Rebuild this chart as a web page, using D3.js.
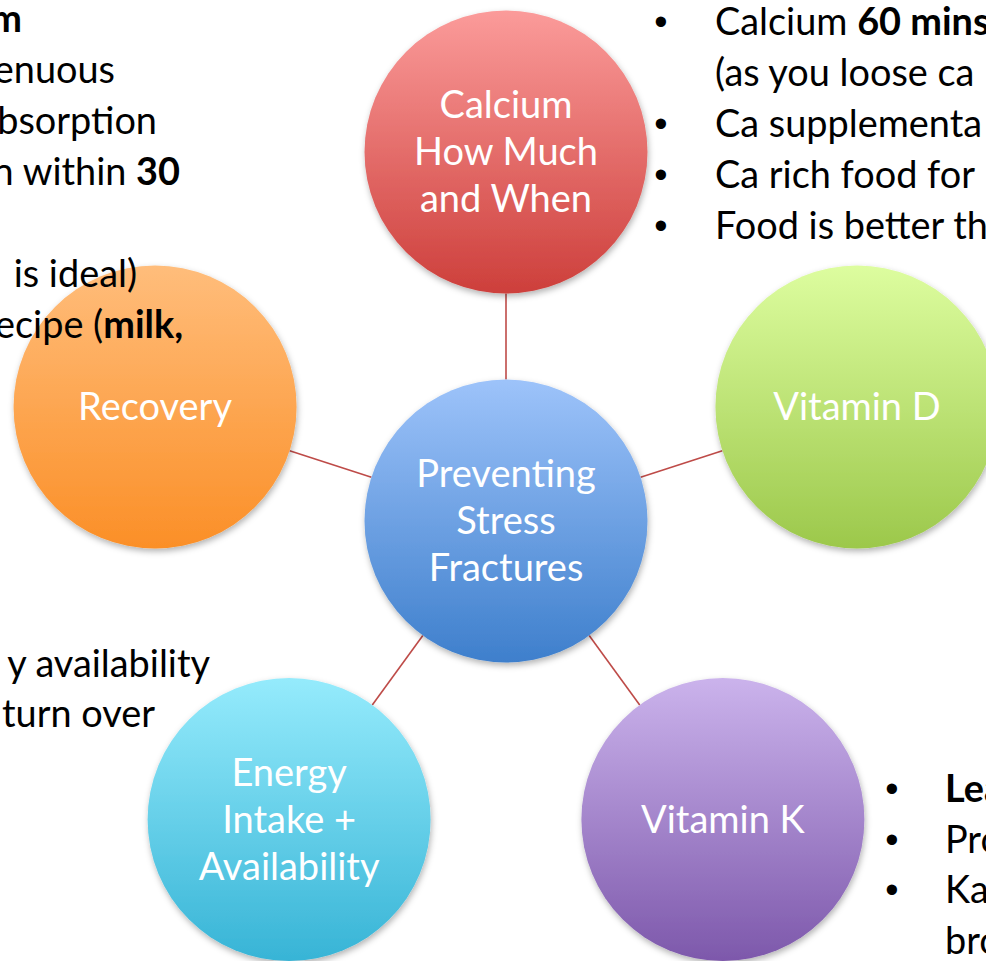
<!DOCTYPE html>
<html><head><meta charset="utf-8">
<script src="https://cdn.jsdelivr.net/npm/d3@7"></script>
<style>html,body{margin:0;padding:0;background:#fff;overflow:hidden}</style>
</head><body>
<svg id="chart" width="986" height="961"></svg>
<script>
// ---- content ----
const centerLabel = ["Preventing", "Stress", "Fractures"];
const nodeLabels = [
  ["Calcium", "How Much", "and When"],
  ["Vitamin D"],
  ["Vitamin K"],
  ["Energy", "Intake +", "Availability"],
  ["Recovery"]
];
const nodeAnglesDeg = [-90, -18, 54, 126, 198];
const centerColors = ["#9dc3fa", "#3e7fcc"];
const nodeColorsTop = ["#fb9b9a", "#ddfd9f", "#cbb3ec", "#95ebfc", "#ffbd7b"];
const nodeColorsBottom = ["#cd3f3b", "#9cc84b", "#7d58ab", "#37b4d6", "#fb8f27"];

// text blocks (each line: bullet flag, runs of [text, bold])
const notesTopRight = [
  [true,  [["Calcium ", false], ["60 mins", true]]],
  [false, [["(as you loose ca", false]]],
  [true,  [["Ca supplementa", false]]],
  [true,  [["Ca rich food for", false]]],
  [true,  [["Food is better th", false]]]
];
const notesTopLeft = [
  [[["m", true]]],
  [[["strenuous", false]]],
  [[["absorption", false]]],
  [[["n within ", false], ["30", true]]],
  [[["", false]]],
  [[["is ideal)", false]]],
  [[["recipe (", false], ["milk,", true]]]
];
const notesBottomLeft = [
  [[["y availability", false]]],
  [[["turn over", false]]]
];
const notesBottomRight = [
  [true,  [["Lea", true]]],
  [true,  [["Pro", false]]],
  [true,  [["Ka", false]]],
  [false, [["bro", false]]]
];

// ---- drawing ----
const W = 986, H = 961;
const svg = d3.select("#chart");
const FONT = "Lato, 'Open Sans', sans-serif";

// calibrate font size to match Calibri-like widths
function measure(str, size, weight) {
  const t = svg.append("text").attr("font-family", FONT).attr("font-size", size)
    .attr("font-weight", weight || "normal").text(str);
  const w = t.node().getComputedTextLength();
  t.remove();
  return w;
}
const circleFont = 100 * 154 / measure("Recovery", 100);
const bodyFont = 100 * 260 / measure("Ca rich food for", 100);

const cx = 506, cy = 521;
const R = 141.5;          // circle radius
const dist = 369;         // center-to-node distance

const defs = svg.append("defs");
const shadow = defs.append("filter").attr("id", "shadow")
  .attr("x", "-20%").attr("y", "-20%").attr("width", "140%").attr("height", "140%");
shadow.append("feDropShadow").attr("dx", 1).attr("dy", 3).attr("stdDeviation", 3)
  .attr("flood-color", "#000").attr("flood-opacity", 0.3);

function grad(id, top, bottom) {
  const g = defs.append("linearGradient").attr("id", id)
    .attr("x1", 0).attr("y1", 0).attr("x2", 0).attr("y2", 1);
  g.append("stop").attr("offset", "0%").attr("stop-color", top);
  g.append("stop").attr("offset", "100%").attr("stop-color", bottom);
}
grad("g-center", centerColors[0], centerColors[1]);
nodeLabels.forEach((_, i) => grad("g-" + i, nodeColorsTop[i], nodeColorsBottom[i]));

const nodes = nodeLabels.map((lab, i) => {
  const a = nodeAnglesDeg[i] * Math.PI / 180;
  return { lab, i, a, x: cx + dist * Math.cos(a), y: cy + dist * Math.sin(a) };
});

// connectors
svg.append("g").selectAll("line").data(nodes).join("line")
  .attr("x1", d => cx + R * Math.cos(d.a)).attr("y1", d => cy + R * Math.sin(d.a))
  .attr("x2", d => d.x - R * Math.cos(d.a)).attr("y2", d => d.y - R * Math.sin(d.a))
  .attr("stroke", "#be4b48").attr("stroke-width", 1.6);

function drawCircle(x, y, fill, lines) {
  const g = svg.append("g");
  g.append("circle").attr("cx", x).attr("cy", y).attr("r", R)
    .attr("fill", fill).attr("filter", "url(#shadow)");
  const lh = 47;
  const t = g.append("text").attr("font-family", FONT).attr("font-size", circleFont)
    .attr("fill", "#fff").attr("text-anchor", "middle");
  lines.forEach((ln, k) => {
    t.append("tspan").attr("x", x)
      .attr("y", y + (k - (lines.length - 1) / 2) * lh)
      .attr("dy", "0.35em").text(ln);
  });
}
nodes.forEach(d => drawCircle(d.x, d.y, "url(#g-" + d.i + ")", d.lab));
drawCircle(cx, cy, "url(#g-center)", centerLabel);

// annotation text
function runs(textSel, rs) {
  rs.forEach(([s, b]) => textSel.append("tspan").attr("font-weight", b ? "bold" : "normal").text(s));
}
function block(lines, opts) {
  const g = svg.append("g").attr("font-family", FONT).attr("font-size", bodyFont).attr("fill", "#000");
  lines.forEach((ln, k) => {
    const y = opts.y0 + k * opts.lh;
    let bullet, rs;
    if (opts.bullets) { bullet = ln[0]; rs = ln[1]; } else { rs = ln[0]; }
    if (bullet) {
      g.append("text").attr("x", opts.bx).attr("y", y).attr("text-anchor", "middle")
        .attr("font-family", "'Liberation Sans', Arial, sans-serif").text("\u2022");
    }
    const t = g.append("text").attr("x", opts.x).attr("y", y)
      .attr("text-anchor", opts.anchor || "start");
    runs(t, rs);
  });
}
block(notesTopRight, { bullets: true, x: 715, bx: 661, y0: 35, lh: 51 });
block(notesBottomRight, { bullets: true, x: 945, bx: 892, y0: 802, lh: 50.5 });
// left blocks are clipped by the left edge; right edges are aligned to what shows
const tl = svg.append("g");
const tlRight = [22, 115, 157, 180, 0, 137, 183];
notesTopLeft.forEach((ln, k) => {
  if (!ln[0][0][0]) return;
  const t = svg.append("text").attr("font-family", FONT).attr("font-size", bodyFont)
    .attr("x", tlRight[k]).attr("y", 32 + k * 51).attr("text-anchor", "end");
  runs(t, ln[0]);
});
const blRight = [210, 155];
notesBottomLeft.forEach((ln, k) => {
  const t = svg.append("text").attr("font-family", FONT).attr("font-size", bodyFont)
    .attr("x", blRight[k]).attr("y", 677 + k * 50).attr("text-anchor", "end");
  runs(t, ln[0]);
});
</script>
</body></html>
